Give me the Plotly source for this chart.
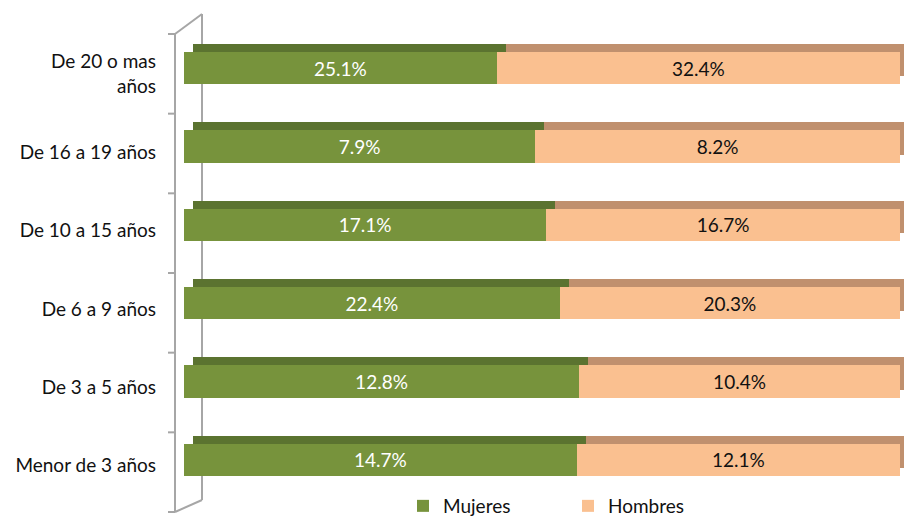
import plotly.graph_objects as go

# categories bottom -> top
grupos = ["Menor de 3 años", "De 3 a 5 años", "De 6 a 9 años", "De 10 a 15 años",
          "De 16 a 19 años", "De 20 o mas<br>años"]
mujeres = [14.7, 12.8, 22.4, 17.1, 7.9, 25.1]
hombres = [12.1, 10.4, 20.3, 16.7, 8.2, 32.4]

W, H = 904, 525
FONT = "Lato"
FS = 19
VERDE, VERDE_OSC = "#77933c", "#5b7330"
PIEL, PIEL_OSC = "#fac090", "#c0906e"

def px(x): return x / W
def py(y): return 1 - y / H

fig = go.Figure()

# darker copies behind, shifted up/right -> fake 3D top/side faces
for vals, c in [(mujeres, VERDE_OSC), (hombres, PIEL_OSC)]:
    fig.add_trace(go.Bar(y=grupos, x=vals, orientation="h", marker=dict(color=c, line_width=0),
                         showlegend=False, hoverinfo="skip", xaxis="x", yaxis="y"))

fig.add_trace(go.Bar(y=grupos, x=mujeres, orientation="h", name="Mujeres",
                     marker=dict(color=VERDE, line_width=0),
                     texttemplate="%{x:.1f}%", textposition="inside", insidetextanchor="middle",
                     textfont=dict(color="white", size=FS, family=FONT),
                     xaxis="x2", yaxis="y2"))
fig.add_trace(go.Bar(y=grupos, x=hombres, orientation="h", name="Hombres",
                     marker=dict(color=PIEL, line_width=0),
                     texttemplate="%{x:.1f}%", textposition="inside", insidetextanchor="middle",
                     textfont=dict(color="#111111", size=FS, family=FONT),
                     xaxis="x2", yaxis="y2"))

# plot area (front faces): x 184..900 px, y 29..499 px
dom_x = [px(184), 1]
dom_y = [py(499), py(29)]
front_w = 900 - 184
scale = front_w / 100.0
dx, dy = 9, 8
slot = (499 - 29) / 6.0

shapes = []
gray = dict(color="#a6a6a6", width=2)
shapes.append(dict(type="line", xref="paper", yref="paper", x0=px(175), y0=py(34), x1=px(175), y1=py(512), line=gray, layer="below"))
shapes.append(dict(type="line", xref="paper", yref="paper", x0=px(202), y0=py(14), x1=px(202), y1=py(500), line=gray, layer="below"))
shapes.append(dict(type="line", xref="paper", yref="paper", x0=px(175), y0=py(34), x1=px(202), y1=py(14), line=gray, layer="below"))
shapes.append(dict(type="line", xref="paper", yref="paper", x0=px(175), y0=py(512), x1=px(202), y1=py(500), line=gray, layer="below"))
for k in range(7):
    yy = 34 + k * (512 - 34) / 6.0
    shapes.append(dict(type="line", xref="paper", yref="paper", x0=px(168), y0=py(yy), x1=px(175), y1=py(yy), line=gray, layer="below"))

fig.update_layout(
    width=W, height=H, barmode="stack", barnorm="percent", bargap=0.59,
    paper_bgcolor="white", plot_bgcolor="rgba(0,0,0,0)",
    margin=dict(l=0, r=0, t=0, b=0),
    font=dict(family=FONT, size=FS, color="#111111"),
    xaxis=dict(domain=dom_x, range=[-dx / scale, (W - 184 - dx) / scale], visible=False,
               automargin=False),
    yaxis=dict(domain=dom_y, range=[-0.5 - dy / slot, 5.5 - dy / slot], visible=False,
               categoryorder="array", categoryarray=grupos, automargin=False),
    xaxis2=dict(overlaying="x", range=[0, (W - 184) / scale], visible=False, automargin=False),
    yaxis2=dict(overlaying="y", range=[-0.5, 5.5], categoryorder="array", categoryarray=grupos,
                showline=False, showgrid=False, ticks="", ticklabelstandoff=27, ticklabelshift=6,
                automargin=False, tickfont=dict(size=FS, color="#111111", family=FONT)),
    legend=dict(orientation="h", x=px(403), xanchor="left", y=0, yanchor="bottom",
                font=dict(size=FS, family=FONT), entrywidth=120, entrywidthmode="pixels",
                traceorder="normal", borderwidth=0, bgcolor="rgba(0,0,0,0)"),
    shapes=shapes,
    showlegend=True,
)

fig.write_html("out.html", post_script="document.body.style.margin='0';",
               config={"displayModeBar": False})
